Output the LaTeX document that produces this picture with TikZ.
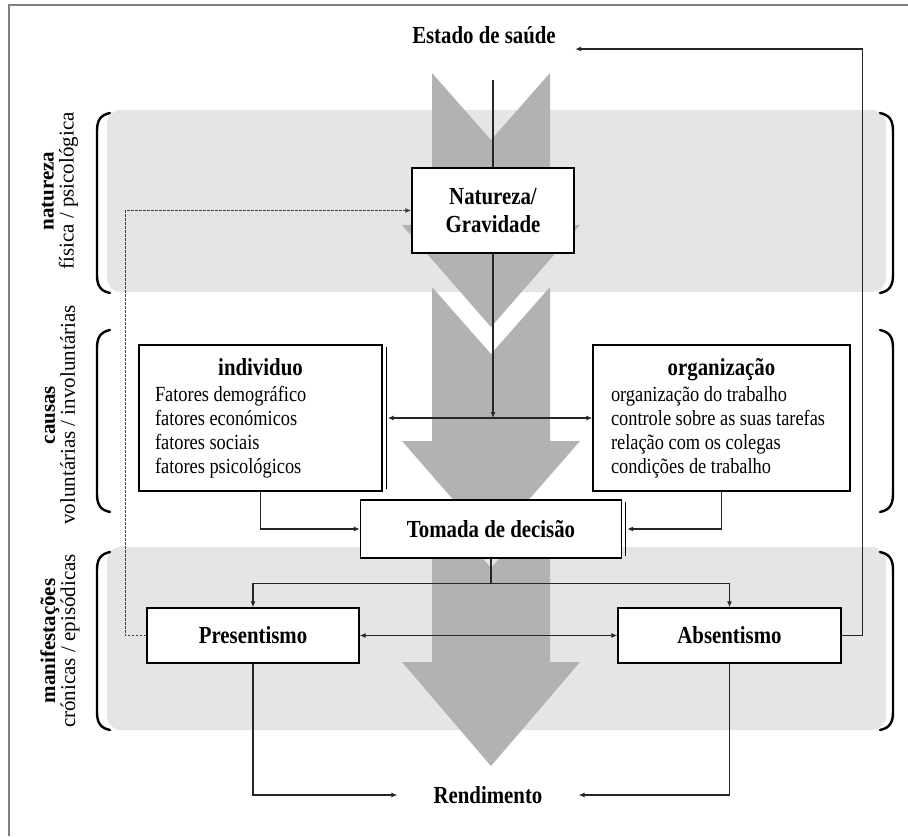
\documentclass[tikz,border=0pt]{standalone}
\usepackage{fontspec}
\setmainfont[FakeStretch=0.85]{Liberation Serif}
\newfontfamily\sidefam{Liberation Serif}
\usetikzlibrary{arrows.meta}
\newcommand\hdfont{\fontsize{24.5}{27.5}\selectfont\bfseries}
\newcommand\txtfont{\fontsize{21.6}{24}\selectfont}
\newcommand\sidefont{\sidefam\fontsize{21}{20}\selectfont}
\tikzset{
  box/.style={draw, fill=white, line width=1.3pt, inner sep=0pt},
  link/.style={draw=black!85, line width=1.4pt},
  band/.style={fill=black!10, rounded corners=14pt},
  chevron/.style={fill=black!30},
  brace/.style={line width=2.4pt, line cap=round},
  side/.style={rotate=90, align=center, font=\sidefont},
}
\begin{document}
\begin{tikzpicture}[x=1pt, y=-1pt, >={Latex[length=6pt,width=5pt]}]
\useasboundingbox (0,0) rectangle (908,836);
\fill[white] (0,0) rectangle (908,836);
\draw[black!50, line width=2pt] (9,836) -- (9,5) -- (908,5);

\fill[band] (107,110) rectangle (886,292);
\fill[band] (107,547) rectangle (886,730);

\foreach \t/\b/\e in {73/225/327, 287/441/543, 501/662/766}
  \fill[chevron] (432,\t) -- (491,\t+67) -- (550,\t) -- (550,\b) -- (580,\b)
    -- (491,\e) -- (402,\b) -- (432,\b) -- cycle;

\foreach \a/\z in {113/293, 330/512, 552/730}{
  \draw[brace] (110,\a) .. controls (100,\a+2) and (97,\a+8) .. (97,\a+18)
    -- (97,\z-18) .. controls (97,\z-8) and (100,\z-2) .. (110,\z);
  \draw[brace] (880,\a) .. controls (890,\a+2) and (893,\a+8) .. (893,\a+18)
    -- (893,\z-18) .. controls (893,\z-8) and (890,\z-2) .. (880,\z);
}

\node[side] (lnat) at (60,191) {{\bfseries natureza}\\física / psicológica};
\node[side] (lcau) at (60,415) {{\bfseries causas}\\voluntárias / involuntárias};
\node[side] (lman) at (60,641) {{\bfseries manifestações}\\crónicas / episódicas};

\node[font=\hdfont, minimum width=182, minimum height=90, inner sep=0pt] (estado) at (484,35) {Estado de saúde};
\node[box, font=\hdfont, align=center, minimum width=162, minimum height=85] (nat) at (493,210.5) {Natureza/\\Gravidade};
\node[box, font=\txtfont, align=left, minimum width=243, minimum height=146] (ind) at (260.5,418)
  {\makebox[211pt]{\hdfont individuo}\\[2pt]
   Fatores demográfico\\ fatores económicos\\ fatores sociais\\ fatores psicológicos};
\node[box, font=\txtfont, align=left, minimum width=257, minimum height=146] (org) at (721.5,418)
  {\makebox[221pt]{\hdfont organização}\\[2pt]
   organização do trabalho\\ controle sobre as suas tarefas\\ relação com os colegas\\ condições de trabalho};
\node[box, font=\hdfont, minimum width=261, minimum height=58] (dec) at (491,529) {Tomada de decisão};
\node[box, font=\hdfont, minimum width=212, minimum height=55] (pres) at (253,635.5) {Presentismo};
\node[box, font=\hdfont, minimum width=223, minimum height=55] (abs) at (729.5,635.5) {Absentismo};
\node[font=\hdfont, inner xsep=36pt, inner ysep=4pt] (rend) at (488,795) {Rendimento};

\draw[line width=1pt] ([xshift=3.5pt,yshift=-3pt]ind.north east) -- ([xshift=3.5pt,yshift=3pt]ind.south east);
\draw[line width=1pt] ([xshift=3.5pt,yshift=-3pt]dec.north east) -- ([xshift=3.5pt,yshift=3pt]dec.south east);

\draw[link] (estado.south -| nat.north) -- (nat.north);
\draw[link, ->] (nat.south) -- (nat.south |- ind.east);
\draw[link, <->] ([xshift=5pt]ind.east) -- (org.west);
\draw[link, ->] (ind.south) |- (dec.west);
\draw[link, ->] (org.south) |- ([xshift=5pt]dec.east);
\draw[link, ->] (dec.south) -- ++(0,25) -| (pres.north);
\draw[link, ->] (dec.south) -- ++(0,25) -| (abs.north);
\draw[link, <->] (pres.east) -- (abs.west);
\draw[link, ->, draw=black!75, line width=1.6pt, dash pattern=on 2.5pt off 1.5pt] (pres.west) -- ++(-21,0) |- (nat.west);
\draw[link, ->] (abs.east) -- ++(21,0) |- ([yshift=-14pt]estado.east);
\draw[link, ->] (pres.south) |- (rend.west);
\draw[link, ->] (abs.south) |- (rend.east);
\end{tikzpicture}
\end{document}
